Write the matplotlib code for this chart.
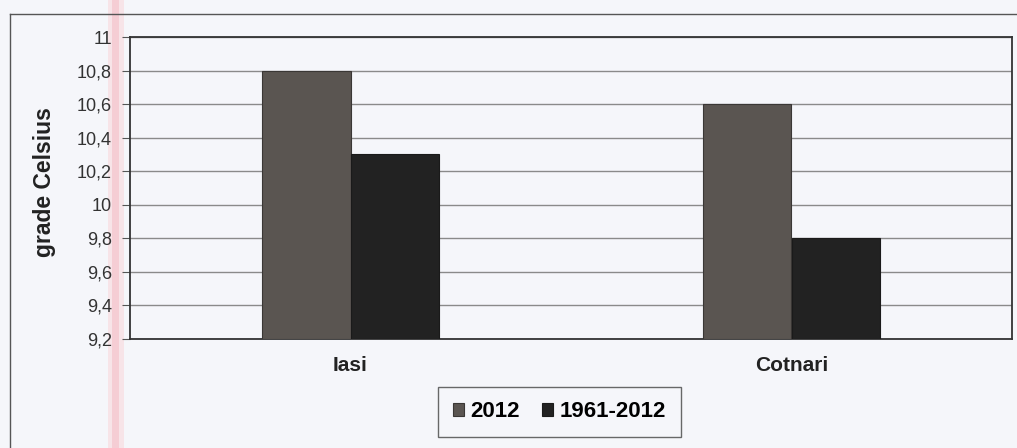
import matplotlib
matplotlib.use("Agg")
import matplotlib.pyplot as plt
from matplotlib.patches import Rectangle
from matplotlib.lines import Line2D
import numpy as np

categories = ["Iasi", "Cotnari"]
series_names = ["2012", "1961-2012"]
values_2012 = [10.8, 10.6]
values_1961_2012 = [10.3, 9.8]
yticks = [9.2, 9.4, 9.6, 9.8, 10.0, 10.2, 10.4, 10.6, 10.8, 11.0]
ytick_labels = ["9,2", "9,4", "9,6", "9,8", "10", "10,2", "10,4", "10,6", "10,8", "11"]

plt.rcParams['font.family'] = ['Liberation Sans', 'DejaVu Sans']

bg = "#f5f6fa"
fig = plt.figure(figsize=(10.17, 4.48), dpi=100, facecolor=bg)

# outer chart frame
fig.add_artist(Line2D([10/1017, 10/1017], [0, 1 - 14/448], transform=fig.transFigure, color="#555555", lw=1.0))
fig.add_artist(Line2D([10/1017, 1], [1 - 14/448, 1 - 14/448], transform=fig.transFigure, color="#555555", lw=1.0))
# faint pink scan band
fig.add_artist(Rectangle((108/1017, 0), 16/1017, 1, transform=fig.transFigure, color="#f9d3d8", alpha=0.5, lw=0, zorder=0))
fig.add_artist(Rectangle((112/1017, 0), 7/1017, 1, transform=fig.transFigure, color="#f5b8c2", alpha=0.5, lw=0, zorder=0))

ax = fig.add_axes([130/1017, 109/448, 882/1017, 302/448])
ax.set_facecolor("none")

x = np.arange(len(categories))
w = 0.2
b0 = 9.2
ax.bar(x - w/2, np.array(values_2012) - b0, w, bottom=b0, color="#5a5551", edgecolor="#3a3735", lw=0.8, label=series_names[0], zorder=3)
ax.bar(x + w/2, np.array(values_1961_2012) - b0, w, bottom=b0, color="#222222", edgecolor="#1a1a1a", lw=0.8, label=series_names[1], zorder=3)

ax.set_xlim(-0.5, 1.5)
ax.set_ylim(9.2, 11.0)
ax.set_yticks(yticks)
ax.set_yticklabels(ytick_labels, fontsize=13, color="#333333")
ax.yaxis.grid(True, color="#8a8a8a", lw=1.0, zorder=0)
ax.set_xticks(x)
ax.set_xticklabels(categories, fontsize=15, fontweight="bold", color="#222222")
ax.tick_params(axis="x", length=0, pad=12)
ax.tick_params(axis="y", length=6, color="#555555", pad=7)
for s in ax.spines.values():
    s.set_color("#333333")
    s.set_linewidth(1.3)

ax.set_ylabel("grade Celsius", fontsize=16.5, fontweight="bold", color="#222222",
              va="center", ha="center")
ax.yaxis.set_label_coords(-0.0975, 0.52)

leg = ax.legend(loc="upper center", bbox_to_anchor=(0.487, -0.159), ncol=2, frameon=True,
                fancybox=False, edgecolor="#444444", prop={"weight": "bold", "size": 16},
                handlelength=0.5, handleheight=0.5, handletextpad=0.3, columnspacing=1.0,
                borderpad=0.65, borderaxespad=0)
leg.get_frame().set_facecolor(bg)
leg.get_frame().set_linewidth(1.0)

fig.savefig("out.png", dpi=100, facecolor=bg)
